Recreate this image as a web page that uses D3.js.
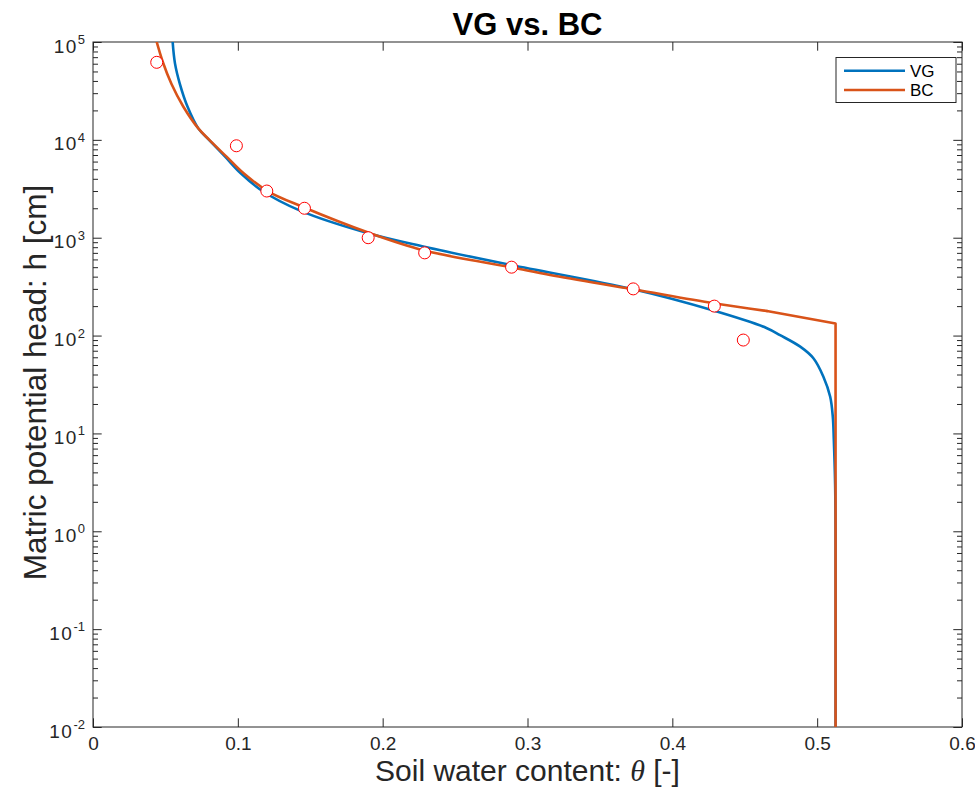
<!DOCTYPE html>
<html>
<head>
<meta charset="utf-8">
<script src="https://cdn.jsdelivr.net/npm/d3@7"></script>
<style>
  html, body { margin: 0; padding: 0; background: #ffffff; }
  svg { display: block; font-family: "Liberation Sans", Arial, Helvetica, sans-serif; }
</style>
</head>
<body>
<svg id="chart" width="975" height="788"></svg>
<script>
// ---- data ----
const obsTheta = [0.044, 0.099, 0.120, 0.146, 0.190, 0.229, 0.289, 0.373, 0.429, 0.449];
const obsH     = [62000, 8700, 3000, 2000, 1000, 700, 500, 300, 200, 90];

const vgTheta = [0.0550, 0.0566, 0.0600, 0.0653, 0.0727, 0.0801, 0.0912, 0.1020, 0.1170, 0.1430,
                 0.1900, 0.2288, 0.2887, 0.3731, 0.4284, 0.4653, 0.4744, 0.4883, 0.4974, 0.5043,
                 0.5090, 0.5108, 0.5115, 0.5124, 0.5127, 0.5127];
const vgH     = [100000, 60500, 37200, 21800, 13100, 10000, 6730, 4550, 3000, 1890,
                 1110, 809, 526, 297, 180, 119, 101, 77, 58.6, 38,
                 23.7, 14.8, 8.6, 3, 1, 0.01];

const bcTheta = [0.0440, 0.0482, 0.0542, 0.0624, 0.0727, 0.0803, 0.0922, 0.1040, 0.1205, 0.1450,
                 0.1900, 0.2288, 0.2887, 0.3156, 0.3731, 0.4284, 0.4653, 0.5127, 0.5127];
const bcH     = [100000, 62500, 37200, 21800, 13100, 10000, 6730, 4550, 3000, 2060,
                 1130, 740, 499, 416, 297, 214, 178, 133, 0.01];
const bcSmoothEnd = 16; // index where the sampled BC curve turns into straight segments

const xTicks = [0, 0.1, 0.2, 0.3, 0.4, 0.5, 0.6];
const xTickLabels = ["0", "0.1", "0.2", "0.3", "0.4", "0.5", "0.6"];
const yTickExps = [-2, -1, 0, 1, 2, 3, 4, 5];
const seriesNames = ["VG", "BC"];
const seriesColors = ["#0072BD", "#D95319"];
const titleText = "VG vs. BC";
const xLabelText = "Soil water content: ";
const yLabelText = "Matric potential head: h [cm]";

// ---- layout ----
const svg = d3.select("#chart");
const L = 93, R = 962, T = 42, B = 727;
const axisColor = "#262626";

const x = d3.scaleLinear().domain([0, 0.6]).range([L, R]);
const y = d3.scaleLog().domain([1e-2, 1e5]).range([B, T]);

const majorY = yTickExps.map(e => Math.pow(10, e));
const minorY = [];
for (let e = -2; e < 5; e++) for (let k = 2; k <= 9; k++) minorY.push(k * Math.pow(10, e));

svg.append("defs").append("clipPath").attr("id", "clip")
  .append("rect").attr("x", L).attr("y", T).attr("width", R - L).attr("height", B - T);

svg.append("rect").attr("x", L).attr("y", T).attr("width", R - L).attr("height", B - T).attr("fill", "#fff");

const tickLen = 8.7, minorLen = 5;

function styleAxis(g) {
  g.select(".domain").remove();
  g.selectAll("line").attr("stroke", axisColor).attr("stroke-width", 1);
  g.selectAll("text").attr("fill", axisColor);
}

// bottom axis
svg.append("g").attr("transform", `translate(0,${B})`)
  .call(d3.axisBottom(x).tickValues(xTicks).tickSize(-tickLen).tickPadding(10)
        .tickFormat((d, i) => xTickLabels[i]))
  .call(styleAxis)
  .call(g => g.selectAll("text").attr("font-size", 19).attr("font-family", "Liberation Sans, Arial, sans-serif"));
// top axis
svg.append("g").attr("transform", `translate(0,${T})`)
  .call(d3.axisTop(x).tickValues(xTicks).tickSize(-tickLen).tickFormat(""))
  .call(styleAxis);
// left axis major
const leftAxis = svg.append("g").attr("transform", `translate(${L},0)`)
  .call(d3.axisLeft(y).tickValues(majorY).tickSize(-tickLen).tickFormat(""))
  .call(styleAxis);
leftAxis.selectAll(".tick").each(function(d) {
  const e = Math.round(Math.log10(d));
  const t = d3.select(this).append("text")
    .attr("x", -8).attr("y", 10).attr("text-anchor", "end")
    .attr("fill", axisColor).attr("font-size", 19)
    .attr("font-family", "Liberation Sans, Arial, sans-serif");
  t.append("tspan").attr("letter-spacing", 1.5).text("10");
  t.append("tspan").attr("dy", -8.5).attr("font-size", 13).text(String(e));
});
// left minor
svg.append("g").attr("transform", `translate(${L},0)`)
  .call(d3.axisLeft(y).tickValues(minorY).tickSize(-minorLen).tickFormat(""))
  .call(styleAxis);
// right axis
svg.append("g").attr("transform", `translate(${R},0)`)
  .call(d3.axisRight(y).tickValues(majorY).tickSize(-tickLen).tickFormat(""))
  .call(styleAxis);
svg.append("g").attr("transform", `translate(${R},0)`)
  .call(d3.axisRight(y).tickValues(minorY).tickSize(-minorLen).tickFormat(""))
  .call(styleAxis);

// box
svg.append("rect").attr("x", L).attr("y", T).attr("width", R - L).attr("height", B - T)
  .attr("fill", "none").attr("stroke", axisColor).attr("stroke-width", 1);

// ---- curves ----
const plot = svg.append("g").attr("clip-path", "url(#clip)");
const vgPts = vgTheta.map((t, i) => [t, vgH[i]]);
const bcPts = bcTheta.map((t, i) => [t, bcH[i]]);

const smoothLine = d3.line().x(d => x(d[0])).y(d => y(d[1])).curve(d3.curveCatmullRom.alpha(0.5));
const straightLine = d3.line().x(d => x(d[0])).y(d => y(d[1]));

plot.append("path").attr("d", smoothLine(vgPts))
  .attr("fill", "none").attr("stroke", seriesColors[0]).attr("stroke-width", 2.6)
  .attr("stroke-linejoin", "round");

const bcG = plot.append("g").attr("fill", "none").attr("stroke", seriesColors[1])
  .attr("stroke-width", 2.6).attr("stroke-linejoin", "round").attr("stroke-linecap", "round");
bcG.append("path").attr("d", smoothLine(bcPts.slice(0, bcSmoothEnd + 1)));
bcG.append("path").attr("d", straightLine(bcPts.slice(bcSmoothEnd)));

// observations
plot.selectAll("circle.obs").data(obsTheta.map((t, i) => [t, obsH[i]]))
  .join("circle").attr("class", "obs")
  .attr("cx", d => x(d[0])).attr("cy", d => y(d[1])).attr("r", 6)
  .attr("fill", "#ffffff").attr("stroke", "#ff0000").attr("stroke-width", 1);

// ---- legend ----
const lg = svg.append("g");
lg.append("rect").attr("x", 836).attr("y", 57.5).attr("width", 120).attr("height", 45)
  .attr("fill", "#fff").attr("stroke", axisColor).attr("stroke-width", 1);
seriesNames.forEach((name, i) => {
  const yy = 70.7 + i * 19.3;
  lg.append("line").attr("x1", 844).attr("x2", 905).attr("y1", yy).attr("y2", yy)
    .attr("stroke", seriesColors[i]).attr("stroke-width", 2.6);
  lg.append("text").attr("x", 910).attr("y", yy + 6).attr("font-size", 17)
    .attr("fill", "#000").text(name);
});

// ---- title & labels ----
svg.append("text").attr("x", (L + R) / 2).attr("y", 35).attr("text-anchor", "middle")
  .attr("font-size", 31).attr("font-weight", "bold").attr("fill", "#000").text(titleText);

const xl = svg.append("text").attr("x", (L + R) / 2).attr("y", 781).attr("text-anchor", "middle")
  .attr("font-size", 30).attr("fill", axisColor);
xl.append("tspan").text(xLabelText);
xl.append("tspan").attr("font-style", "italic").attr("font-family", "Liberation Serif, Times New Roman, serif").text("θ");
xl.append("tspan").text(" [-]");

svg.append("text").attr("transform", `translate(46,${(T + B) / 2 - 2}) rotate(-90)`)
  .attr("text-anchor", "middle").attr("font-size", 31.5).attr("fill", axisColor).text(yLabelText);
</script>
</body>
</html>
